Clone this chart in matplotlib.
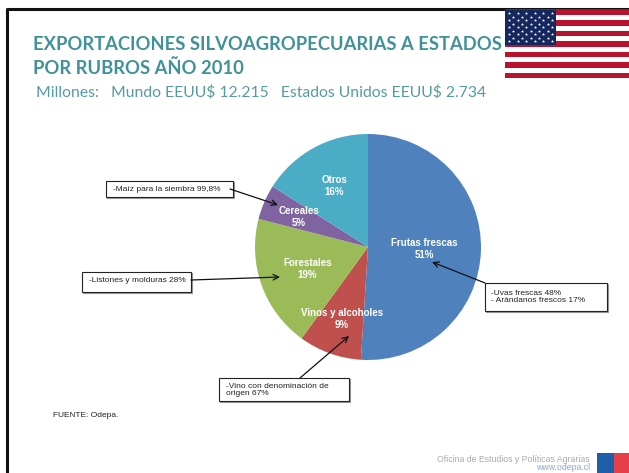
#!/usr/bin/env python3
"""Exportaciones silvoagropecuarias a Estados Unidos, por rubros, 2010."""

import numpy as np
import matplotlib
matplotlib.use("Agg")
import matplotlib.pyplot as plt
from matplotlib.patches import Rectangle

W, H = 629, 473

categories = ["Frutas frescas", "Vinos y alcoholes", "Forestales", "Cereales", "Otros"]
shares = [51, 9, 19, 5, 16]
colors = ["#4f81bd", "#c0504d", "#9bbb59", "#8064a2", "#4bacc6"]
label_radius = [0.50, 0.68, 0.57, 0.67, 0.62]

callouts = ["-Maíz para la siembra 99,8%", "-Listones y molduras 28%",
            "-Vino con denominación de\norigen 67%",
            "-Uvas frescas 48%\n- Arándanos frescos 17%"]
# box x, y, w, h in pixels, then where the line leaves and where the arrow lands
callout_boxes = [(106, 181, 127, 16), (82, 272, 109, 20), (219, 378, 130, 23), (485, 283, 122, 28)]
callout_text_xy = [(113, 189.5), (89, 280.5), (226, 390), (491, 297)]
callout_tails = [(230, 189), (191, 280), (300, 378), (485, 283)]
callout_heads = [(278, 205), (280, 277), (349, 336), (432, 262)]

plt.rcParams["font.family"] = ["Liberation Sans", "DejaVu Sans"]
fig = plt.figure(figsize=(W / 100, H / 100), dpi=100)

page = fig.add_axes([0, 0, 1, 1])
page.set_xlim(0, W)
page.set_ylim(H, 0)
page.axis("off")

# slide frame
page.plot([7, 7, W], [H, 9.5, 9.5], color="#111111", lw=2.2, zorder=1)

# title
teal = "#3f9298"
page.text(33, 44, "EXPORTACIONES SILVOAGROPECUARIAS A ESTADOS", family="Lato",
          weight="bold", fontsize=13.2, color=teal, va="center", zorder=2)
page.text(33, 68, "POR RUBROS AÑO 2010", family="Lato", weight="bold",
          fontsize=13.2, color=teal, va="center", zorder=2)
page.text(36, 92, r"Millones:   Mundo EEUU\$ 12.215   Estados Unidos EEUU\$ 2.734",
          family="Lato", fontsize=11.3, color="#559ba0", va="center", zorder=2)

# flag
stripe_h = 68 / 13
page.add_patch(Rectangle((505, 10), 124, 68, color="white", zorder=3))
for i in range(0, 13, 2):
    page.add_patch(Rectangle((505, 10 + i * stripe_h), 124, stripe_h, color="#b9122f", lw=0, zorder=3))
page.add_patch(Rectangle((505, 10), 51, 35, color="#14275f", lw=0, zorder=4))
for row in range(9):
    n = 6 if row % 2 == 0 else 5
    off = 4 if row % 2 == 0 else 8.3
    page.scatter(505 + off + np.arange(n) * 8.6, np.full(n, 13.5 + row * 3.5),
                 s=6, marker="*", color="white", lw=0, zorder=5)

# pie
cx, cy, r = 368, 247, 113
pie_ax = fig.add_axes([(cx - r) / W, 1 - (cy + r) / H, 2 * r / W, 2 * r / H])
wedges, _ = pie_ax.pie(shares, colors=colors, startangle=90, counterclock=False, radius=1)
pie_ax.set_xlim(-1, 1)
pie_ax.set_ylim(-1, 1)
for w, name, share, lr in zip(wedges, categories, shares, label_radius):
    ang = np.deg2rad((w.theta1 + w.theta2) / 2)
    pie_ax.text(lr * np.cos(ang), lr * np.sin(ang), f"{name}\n{share}%", color="white",
                fontsize=7, weight="bold", ha="center", va="center", linespacing=1.25)

# callouts on top of the pie
over = fig.add_axes([0, 0, 1, 1])
over.set_xlim(0, W)
over.set_ylim(H, 0)
over.axis("off")
over.patch.set_alpha(0)
for text, box, txy, tail, head in zip(callouts, callout_boxes, callout_text_xy,
                                      callout_tails, callout_heads):
    x, y, bw, bh = box
    over.add_patch(Rectangle((x + 0.8, y + 0.8), bw, bh, fc="#999999", ec="#999999", lw=0.8))
    over.add_patch(Rectangle((x, y), bw, bh, fc="white", ec="#222222", lw=0.8))
    over.text(txy[0], txy[1], text, fontsize=6, color="#222222", va="center", linespacing=1.05)
    over.annotate("", xy=head, xytext=tail,
                  arrowprops=dict(arrowstyle="->", color="#111111", lw=0.9, mutation_scale=10,
                                  shrinkA=0, shrinkB=0))

over.text(53, 415, "FUENTE: Odepa.", fontsize=6, color="#222222", va="center")

# footer logo, washed out like the source
over.text(590, 459, "Oficina de Estudios y Políticas Agrarias", fontsize=6.3, color="#aaaaaa",
          ha="right", va="center")
over.text(590, 467.5, "www.odepa.cl", fontsize=6.3, color="#8fa8d0", ha="right", va="center")
over.add_patch(Rectangle((597, 453), 17, 20, color="#1f5fa8", lw=0))
over.add_patch(Rectangle((614, 453), 15, 20, color="#e5404a", lw=0))

fig.savefig("out.png", dpi=100)
